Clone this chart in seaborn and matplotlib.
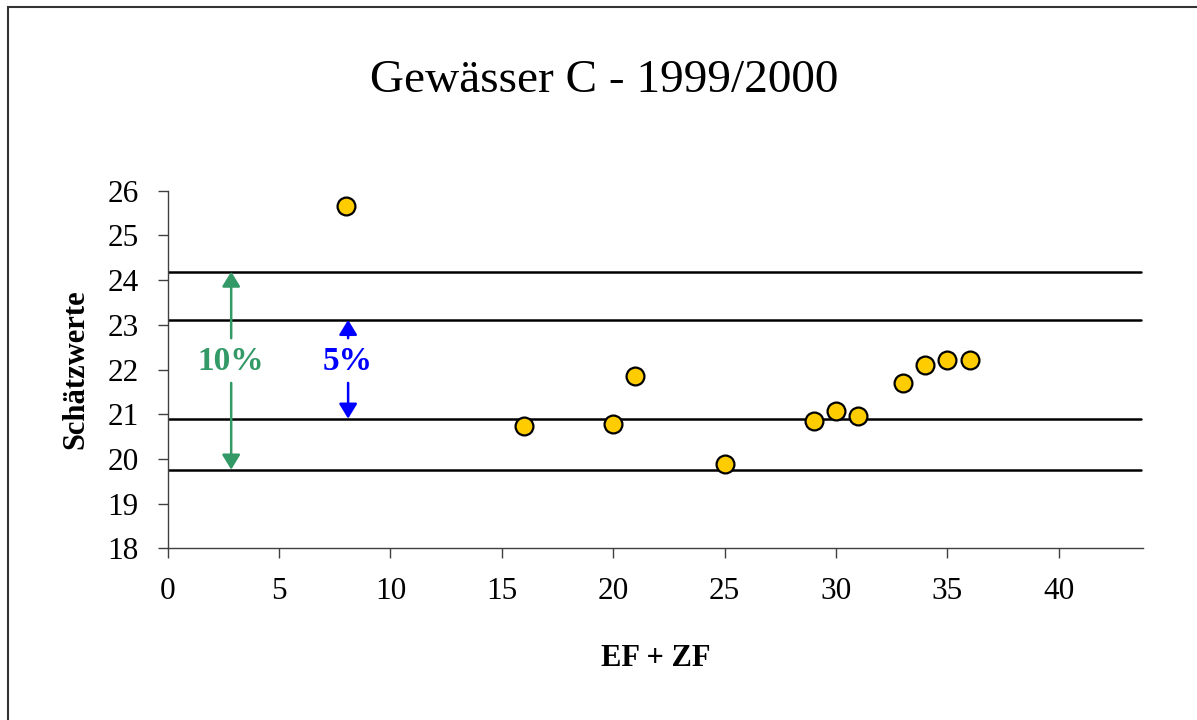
import pandas as pd
import matplotlib
matplotlib.use('Agg')
import matplotlib.pyplot as plt
from matplotlib.patches import Rectangle
import seaborn as sns

# Daten
ef_zf = [8, 16, 20, 21, 25, 29, 30, 31, 33, 34, 35, 36]
schaetzwerte = [25.66, 20.74, 20.79, 21.86, 19.88, 20.85, 21.08, 20.95, 21.70, 22.09, 22.21, 22.21]

# Grenzlinien: +10%, +5%, -5%, -10%
grenzen = [24.19, 23.11, 20.90, 19.76]

x_ticks = [0, 5, 10, 15, 20, 25, 30, 35, 40]
y_ticks = [18, 19, 20, 21, 22, 23, 24, 25, 26]

df = pd.DataFrame({'EF + ZF': ef_zf, 'Schätzwerte': schaetzwerte})

sns.set_style('white')
plt.rcParams['font.family'] = ['Liberation Serif', 'DejaVu Serif']
plt.rcParams['text.color'] = 'black'
plt.rcParams['axes.labelcolor'] = 'black'
plt.rcParams['xtick.color'] = 'black'
plt.rcParams['ytick.color'] = 'black'

fig = plt.figure(figsize=(11.97, 7.2), dpi=100)
ax = fig.add_axes([0.1401, 0.2385, 0.815, 0.4966])

# horizontale Linien
for g in grenzen:
    ax.plot([0, 43.7], [g, g], color='black', lw=1.8, zorder=2)

sns.scatterplot(data=df, x='EF + ZF', y='Schätzwerte', ax=ax, s=165,
                color='#FFCC00', edgecolor='black', linewidth=1.6, zorder=3)

# Pfeile 10% (grün) und 5% (blau)
gruen = '#339966'
blau = '#0000FF'
stil = '-|>,head_length=0.9,head_width=0.55'
pfeil_g = dict(arrowstyle=stil, color=gruen, lw=1.8, shrinkA=0, shrinkB=0)
pfeil_b = dict(arrowstyle=stil, color=blau, lw=1.8, shrinkA=0, shrinkB=0)
ax.annotate('', xy=(2.85, grenzen[0]), xytext=(2.85, 22.70), arrowprops=pfeil_g)
ax.annotate('', xy=(2.85, grenzen[3]), xytext=(2.85, 21.70), arrowprops=pfeil_g)
ax.annotate('', xy=(8.1, grenzen[1]), xytext=(8.1, 22.70), arrowprops=pfeil_b)
ax.annotate('', xy=(8.1, grenzen[2]), xytext=(8.1, 21.70), arrowprops=pfeil_b)
ax.text(2.85, 22.17, '10%', color=gruen, fontsize=24, fontweight='bold', ha='center', va='center')
ax.text(8.1, 22.17, '5%', color=blau, fontsize=24, fontweight='bold', ha='center', va='center')

ax.set_xlim(0, 43.8)
ax.set_ylim(18, 26)
ax.set_xticks(x_ticks)
ax.set_yticks(y_ticks)
ax.tick_params(axis='both', direction='out', length=7, width=1, color='#404040',
               labelcolor='black', labelsize=22.5, pad=14, bottom=True, left=True)
for side in ['top', 'right']:
    ax.spines[side].set_visible(False)
for side in ['left', 'bottom']:
    ax.spines[side].set_color('#404040')
    ax.spines[side].set_linewidth(1)

ax.set_xlabel('EF + ZF', fontsize=22, fontweight='bold', labelpad=27, color='black')
ax.set_ylabel('Schätzwerte', fontsize=22, fontweight='bold', labelpad=12, color='black')
fig.text(604 / 1197, 1 - 81 / 720, 'Gewässer C - 1999/2000', fontsize=34,
         ha='center', va='center', color='black')

# Rahmen um das Diagramm
fig.add_artist(Rectangle((8 / 1197, -0.1), 1.2, 1 - 7 / 720 + 0.1, transform=fig.transFigure,
                         fill=False, edgecolor='#333333', lw=1.5))

fig.savefig('out.png', dpi=100)
